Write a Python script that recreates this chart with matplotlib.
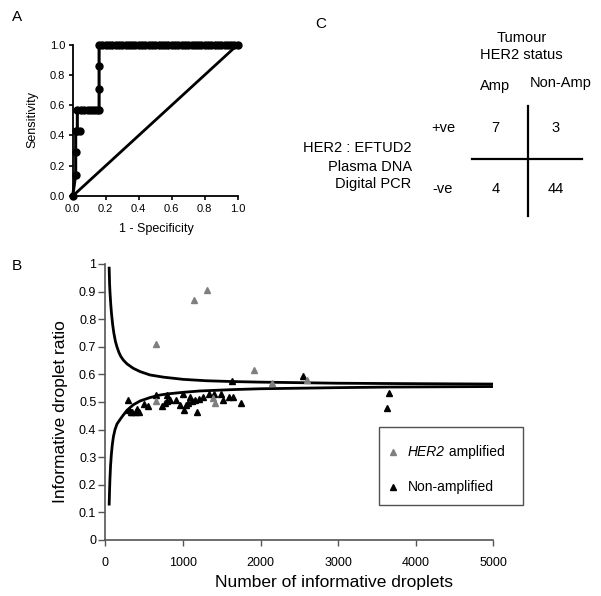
import matplotlib
matplotlib.use("Agg")
import matplotlib.pyplot as plt
from matplotlib.patches import Rectangle
from matplotlib.lines import Line2D

plt.rcParams['font.family'] = ['Liberation Sans', 'DejaVu Sans']

# ---------------- Data ----------------
# Panel A: ROC curve
roc_fpr = [0.0, 0.018, 0.018, 0.018, 0.044, 0.028, 0.028, 0.05, 0.07, 0.09, 0.11, 0.13, 0.15, 0.16,
           0.16, 0.16, 0.16,
           0.18, 0.20, 0.22, 0.24, 0.26, 0.28, 0.30, 0.32, 0.34, 0.36, 0.38, 0.40, 0.42, 0.44,
           0.46, 0.48, 0.50, 0.52, 0.54, 0.56, 0.58, 0.60, 0.62, 0.64, 0.66, 0.68, 0.70, 0.72,
           0.74, 0.76, 0.78, 0.80, 0.82, 0.84, 0.86, 0.88, 0.90, 0.92, 0.94, 0.96, 0.98, 1.0]
roc_tpr = [0.0, 0.14, 0.29, 0.43, 0.43, 0.43, 0.57, 0.57, 0.57, 0.57, 0.57, 0.57, 0.57, 0.57,
           0.71, 0.86, 1.0,
           1.0, 1.0, 1.0, 1.0, 1.0, 1.0, 1.0, 1.0, 1.0, 1.0, 1.0, 1.0, 1.0, 1.0,
           1.0, 1.0, 1.0, 1.0, 1.0, 1.0, 1.0, 1.0, 1.0, 1.0, 1.0, 1.0, 1.0, 1.0,
           1.0, 1.0, 1.0, 1.0, 1.0, 1.0, 1.0, 1.0, 1.0, 1.0, 1.0, 1.0, 1.0, 1.0]
ref_x = [0.0, 1.0]
ref_y = [0.0, 1.0]
roc_ticks = [0.0, 0.2, 0.4, 0.6, 0.8, 1.0]
roc_ticklabels = ["0.0", "0.2", "0.4", "0.6", "0.8", "1.0"]

# Panel B: scatter + bounds
amp_x = [650, 1140, 1315, 1910, 2150, 2600, 655, 1390, 1420]
amp_y = [0.709, 0.870, 0.906, 0.615, 0.570, 0.581, 0.503, 0.513, 0.497]
non_x = [290, 300, 330, 350, 400, 410, 440, 495, 555, 655, 727, 770, 790, 800, 834, 915, 965,
         997, 1018, 1040, 1070, 1090, 1113, 1160, 1180, 1210, 1263, 1330, 1403, 1495, 1521,
         1600, 1645, 1755, 1630, 2545, 3655, 3635]
non_y = [0.507, 0.470, 0.465, 0.462, 0.462, 0.475, 0.465, 0.493, 0.487, 0.527, 0.484, 0.495,
         0.525, 0.502, 0.507, 0.507, 0.490, 0.528, 0.472, 0.489, 0.495, 0.519, 0.505, 0.507,
         0.465, 0.512, 0.518, 0.528, 0.529, 0.528, 0.507, 0.519, 0.519, 0.497, 0.576, 0.594,
         0.534, 0.479]
upper_x = [50, 55, 60, 70, 80, 95, 110, 130, 150, 175, 200, 232, 280, 361, 450, 576, 750,
           1005, 1300, 1649, 2000, 2509, 3000, 3600, 4300, 5000]
upper_y = [0.985, 0.93, 0.90, 0.855, 0.82, 0.78, 0.75, 0.72, 0.70, 0.68, 0.665, 0.652, 0.638,
           0.622, 0.610, 0.598, 0.590, 0.582, 0.577, 0.574, 0.572, 0.570, 0.568, 0.567, 0.566,
           0.565]
lower_x = [50, 55, 60, 68, 78, 90, 105, 125, 150, 191, 230, 280, 361, 450, 576, 700, 791,
           1000, 1220, 1649, 2000, 2509, 3000, 3600, 4300, 5000]
lower_y = [0.13, 0.18, 0.222, 0.27, 0.31, 0.345, 0.375, 0.40, 0.42, 0.437, 0.452, 0.470, 0.490,
           0.504, 0.516, 0.525, 0.529, 0.535, 0.540, 0.545, 0.548, 0.550, 0.552, 0.554, 0.555,
           0.556]
b_yticks = [0, 0.1, 0.2, 0.3, 0.4, 0.5, 0.6, 0.7, 0.8, 0.9, 1.0]
b_yticklabels = ["0", "0.1", "0.2", "0.3", "0.4", "0.5", "0.6", "0.7", "0.8", "0.9", "1"]
b_xticks = [0, 1000, 2000, 3000, 4000, 5000]
b_xticklabels = ["0", "1000", "2000", "3000", "4000", "5000"]
legend_italic = ["HER2", ""]
legend_plain = [" amplified", "Non-amplified"]

# Panel C: contingency table
col_headers = ["Amp", "Non-Amp"]
row_headers = ["+ve", "-ve"]
table_counts = [[7, 3], [4, 44]]

# ---------------- Figure ----------------
W, H = 601, 596
fig = plt.figure(figsize=(W / 100, H / 100), dpi=100)
fig.patch.set_facecolor('white')


def fx(px):
    return px / W


def fy(py):
    return 1 - py / H


# ----- Panel A -----
axA = fig.add_axes([fx(72.7), fy(196), (237.7 - 72.7) / W, (196 - 44.7) / H])
axA.plot(ref_x, ref_y, color='black', lw=2.0, solid_capstyle='butt', clip_on=False)
axA.plot(roc_fpr, roc_tpr, color='black', lw=2.2, marker='o', ms=5, clip_on=False)
axA.set_xlim(0, 1)
axA.set_ylim(0, 1)
axA.set_xticks(roc_ticks)
axA.set_xticklabels(roc_ticklabels)
axA.set_yticks(roc_ticks)
axA.set_yticklabels(roc_ticklabels)
for s in ['top', 'right']:
    axA.spines[s].set_visible(False)
for s in ['left', 'bottom']:
    axA.spines[s].set_linewidth(1.3)
axA.tick_params(direction='out', length=3, width=1.2, labelsize=8, pad=2.5)
fig.text(fx(156.7), fy(232.3), "1 - Specificity", ha='center', va='baseline', fontsize=9)
fig.text(fx(32.5), fy(119), "Sensitivity", ha='center', va='center', rotation=90, fontsize=9)
fig.text(fx(11.5), fy(20.7), "A", ha='left', va='baseline', fontsize=11)

# ----- Panel B -----
axB = fig.add_axes([fx(105.3), fy(540), 388 / W, 276 / H])
axB.plot(upper_x, upper_y, color='black', lw=2.0)
axB.plot(lower_x, lower_y, color='black', lw=2.0)
axB.plot(non_x, non_y, linestyle='none', marker='^', ms=4.3, color='black')
axB.plot(amp_x, amp_y, linestyle='none', marker='^', ms=4.3, color='#7f7f7f')
axB.set_xlim(0, 5000)
axB.set_ylim(0, 1)
axB.set_xticks(b_xticks)
axB.set_xticklabels(b_xticklabels)
axB.set_yticks(b_yticks)
axB.set_yticklabels(b_yticklabels)
for s in ['top', 'right']:
    axB.spines[s].set_visible(False)
for s in ['left', 'bottom']:
    axB.spines[s].set_linewidth(1.2)
    axB.spines[s].set_color('#555555')
axB.tick_params(axis='y', direction='out', length=5, width=1, color='#555555', labelsize=9, pad=1.5)
axB.tick_params(axis='x', direction='out', length=4, width=1, color='#555555', labelsize=9, pad=8)
fig.text(fx(61), fy(411.7), "Informative droplet ratio", ha='center', va='center',
         rotation=90, fontsize=12.5)
fig.text(fx(334.3), fy(586.7), "Number of informative droplets", ha='center', va='baseline',
         fontsize=12.5)
fig.text(fx(11.5), fy(270), "B", ha='left', va='baseline', fontsize=11)

# legend (drawn manually to match the boxed key)
leg_box = Rectangle((fx(378.7), fy(505.3)), (523.3 - 378.7) / W, (505.3 - 427.3) / H,
                    transform=fig.transFigure, fill=False, edgecolor='#505050', lw=1.0)
fig.add_artist(leg_box)
leg_colors = ['#7f7f7f', 'black']
leg_rows_py = [455.7, 490.7]
for it, pl, col, py in zip(legend_italic, legend_plain, leg_colors, leg_rows_py):
    fig.add_artist(Line2D([fx(393)], [fy(py - 3.5)], transform=fig.transFigure, marker='^',
                          ms=5, color=col, linestyle='none'))
    if it:
        t1 = fig.text(fx(407.7), fy(py), it, ha='left', va='baseline', fontsize=10,
                      style='italic')
        axB.annotate(pl, xy=(1, 0), xycoords=t1, ha='left', va='bottom', fontsize=10,
                     annotation_clip=False)
    else:
        fig.text(fx(407.7), fy(py), pl, ha='left', va='baseline', fontsize=10)

# ----- Panel C -----
fig.text(fx(315), fy(28.3), "C", ha='left', va='baseline', fontsize=11)
fig.text(fx(522), fy(41.7), "Tumour", ha='center', va='baseline', fontsize=10.5)
fig.text(fx(521.7), fy(59.3), "HER2 status", ha='center', va='baseline', fontsize=10.5)
col_px = [495.3, 556]
col_head_px = [495.3, 560.5]
col_head_base = [90.3, 87.0]
for lab, px, py in zip(col_headers, col_head_px, col_head_base):
    fig.text(fx(px), fy(py), lab, ha='center', va='baseline', fontsize=10.5)
row_base = [131.7, 192.7]
row_px = [443, 443]
for lab, px, py in zip(row_headers, row_px, row_base):
    fig.text(fx(px), fy(py), lab, ha='center', va='baseline', fontsize=10.5)
for i, row in enumerate(table_counts):
    for j, v in enumerate(row):
        fig.text(fx(col_px[j]), fy(row_base[i]), str(v), ha='center', va='baseline',
                 fontsize=10.5)
for txt, py in zip(["HER2 : EFTUD2", "Plasma DNA", "Digital PCR"], [151.7, 170.7, 188.3]):
    fig.text(fx(411.7), fy(py), txt, ha='right', va='baseline', fontsize=10.5)
fig.add_artist(Line2D([fx(528.3), fx(528.3)], [fy(106), fy(216)], transform=fig.transFigure,
                      color='black', lw=1.6))
fig.add_artist(Line2D([fx(471.7), fx(581.7)], [fy(159.3), fy(159.3)], transform=fig.transFigure,
                      color='black', lw=1.6))

fig.savefig("out.png", dpi=100)
